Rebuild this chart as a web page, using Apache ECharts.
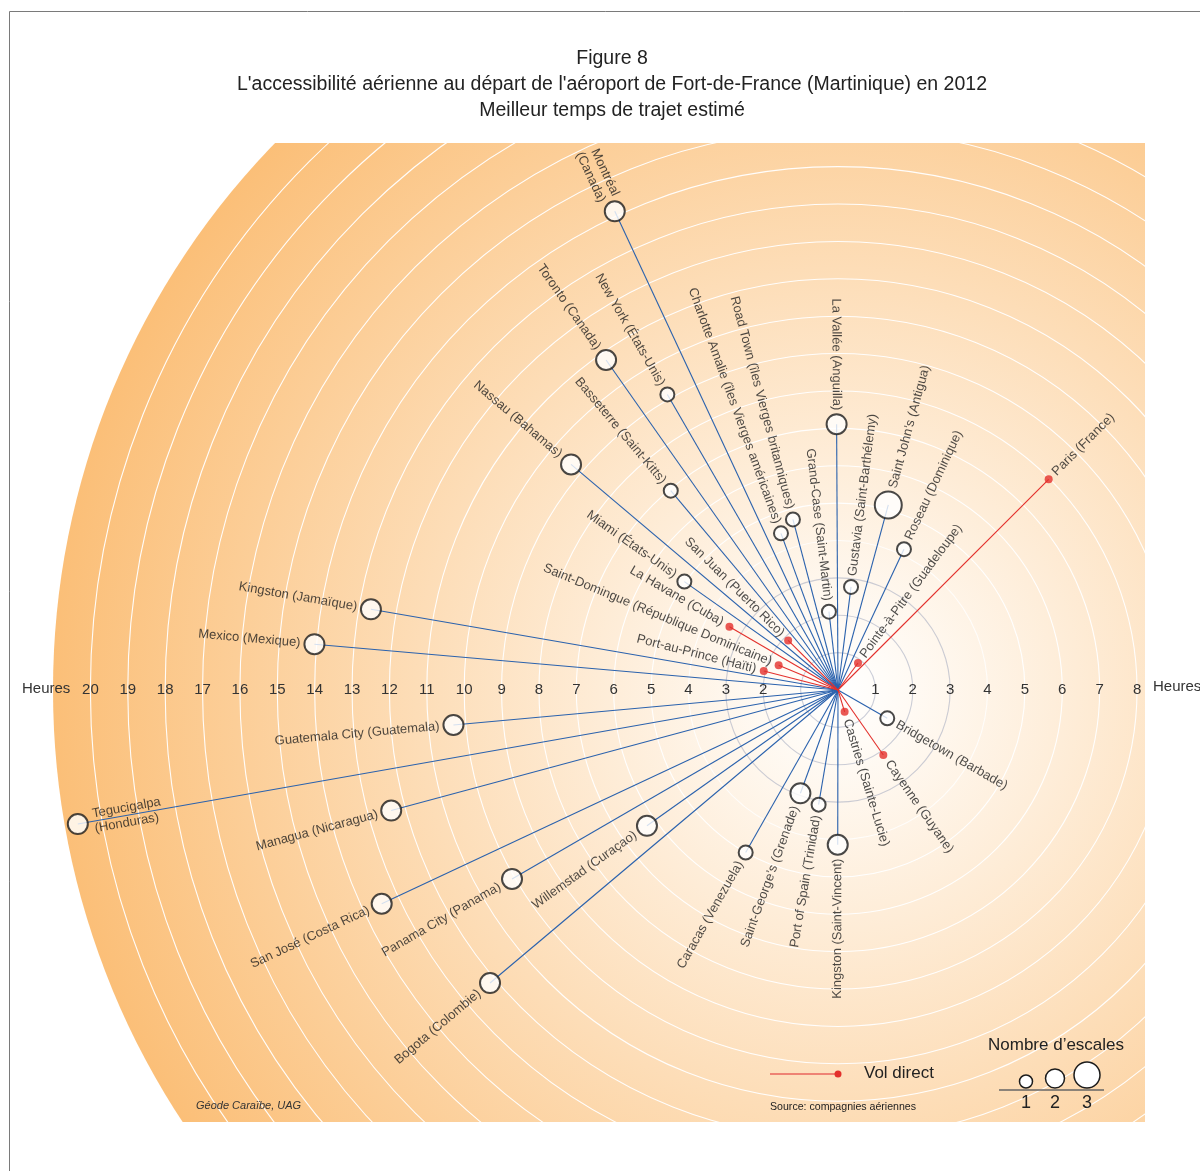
<!DOCTYPE html>
<html>
<head>
<meta charset="utf-8">
<script src="https://cdn.jsdelivr.net/npm/echarts@6/dist/echarts.min.js"></script>
<style>html,body{margin:0;padding:0;background:#fff}#c{width:1200px;height:1171px}</style>
</head>
<body>
<div id="c"></div>
<script>
// ---------- data ----------
const destinations = [
  'Montréal\n(Canada)', 'Toronto (Canada)', 'New York (États-Unis)', 'Nassau (Bahamas)',
  'Basseterre (Saint-Kitts)', 'Charlotte Amalie (îles Vierges américaines)',
  'Road Town (îles Vierges britanniques)', 'La Vallée (Anguilla)', 'Grand-Case (Saint-Martin)',
  'Gustavia (Saint-Barthélemy)', 'Saint John’s (Antigua)', 'Roseau (Dominique)',
  'Pointe-à-Pitre (Guadeloupe)', 'Paris (France)', 'San Juan (Puerto Rico)', 'Miami (États-Unis)',
  'La Havane (Cuba)', 'Saint-Domingue (République Dominicaine)', 'Port-au-Prince (Haïti)',
  'Kingston (Jamaïque)', 'Mexico (Mexique)', 'Guatemala City (Guatemala)', 'Tegucigalpa\n(Honduras)',
  'Managua (Nicaragua)', 'San José (Costa Rica)', 'Panama City (Panama)', 'Willemstad (Curaçao)',
  'Bogota (Colombie)', 'Caracas (Venezuela)', 'Saint-George’s (Grenade)', 'Port of Spain (Trinidad)',
  'Kingston (Saint-Vincent)', 'Castries (Sainte-Lucie)', 'Cayenne (Guyane)', 'Bridgetown (Barbade)'
];
// best estimated travel time (hours)
const hours = [
  14.13, 10.79, 9.13, 9.35, 6.96, 4.46, 4.72, 7.11, 2.11, 2.78, 5.13, 4.16,
  0.90, 7.97, 1.88, 5.03, 3.36, 1.72, 2.05, 12.68, 14.06, 10.33, 20.65,
  12.38, 13.48, 10.08, 6.27, 12.17, 5.00, 2.94, 3.11, 4.14, 0.61, 2.12, 1.52
];
// direction (degrees, counter-clockwise from east)
const bearings = [
  115.0, 125.1, 120.0, 139.8, 130.0, 110.0, 104.8, 90.3, 96.6, 82.8, 74.8, 64.9,
  53.5, 45.0, 135.2, 144.8, 149.8, 157.4, 165.7, 170.2, 175.0, 185.2, 190.0,
  195.1, 205.1, 210.1, 215.4, 220.1, 240.4, 250.0, 260.4, 269.9, 286.9, 304.9, 330.1
];
// number of stops (0 = direct flight)
const stops = [
  2, 2, 1, 2, 1, 1, 1, 2, 1, 1, 3, 1,
  0, 0, 0, 1, 0, 0, 0, 2, 2, 2, 2,
  2, 2, 2, 2, 2, 1, 2, 1, 2, 0, 0, 1
];
const rightTickLabels = [1, 2, 3, 4, 5, 6, 7, 8];
const leftTickLabels = [2, 3, 4, 5, 6, 7, 8, 9, 10, 11, 12, 13, 14, 15, 16, 17, 18, 19, 20];
const legendStops = [1, 2, 3];

// ---------- styles ----------
const FONT = "'Liberation Sans', Arial, sans-serif";
const BLUE = '#2b62ad';
const RED = '#e3302c';
const CX = 838, CY = 690, R = 785, RMAX = 21;
const stopSize = {1: 14, 2: 20, 3: 27};
const inwardLabels = ['Tegucigalpa\n(Honduras)'];

function symSize(s) { return s === 0 ? 8 : stopSize[s]; }

function labelFor(i) {
  const a = bearings[i];
  const d = symSize(stops[i]) / 2 + 4;
  const right = a < 90 || a > 270;
  const rot = right ? (a > 270 ? a - 360 : a) : a - 180;
  const inward = inwardLabels.indexOf(destinations[i]) >= 0;
  let align, off;
  if (inward) { align = right ? 'right' : 'left'; off = right ? -(d + 2) : (d + 2); }
  else { align = right ? 'left' : 'right'; off = right ? d : -d; }
  return {
    show: true, position: 'inside', formatter: destinations[i], rotate: rot,
    align: align, verticalAlign: 'middle', offset: [off, 0],
    color: '#1e1e1e', fontSize: 13, fontFamily: FONT, lineHeight: 15,
    textBorderWidth: 0
  };
}

const ringColors = [];
for (let k = 0; k <= RMAX; k++) {
  if (k === 0 || k === RMAX) ringColors.push('rgba(0,0,0,0)');
  else if (k <= 3) ringColors.push('rgba(160,168,190,0.55)');
  else if (k === 4) ringColors.push('rgba(255,255,255,0.8)');
  else ringColors.push('rgba(255,255,255,0.95)');
}

const series = [];
destinations.forEach((n, i) => {
  const c = stops[i] === 0 ? RED : BLUE;
  series.push({
    type: 'line', coordinateSystem: 'polar', polarIndex: 0,
    data: [[0, bearings[i]], [hours[i], bearings[i]]],
    symbol: 'none', silent: true, z: stops[i] === 0 ? 3 : 2,
    color: c, itemStyle: {color: c},
    lineStyle: {color: c, width: 1.1},
    animation: false
  });
});
series.push({
  type: 'scatter', coordinateSystem: 'polar', polarIndex: 0, z: 5, animation: false, silent: true,
  data: destinations.map((n, i) => ({
    name: n,
    value: [hours[i], bearings[i]],
    symbolSize: symSize(stops[i]),
    itemStyle: stops[i] === 0
      ? {color: RED, borderWidth: 0}
      : {color: '#ffffff', borderColor: '#1c1c1c', borderWidth: 2},
    label: labelFor(i)
  }))
});

const axisLabelBase = {margin: 0, verticalAlign: 'middle', align: 'center', fontSize: 15, color: '#333', fontFamily: FONT};

const option = {
  animation: false,
  title: {
    z: 40,
    text: "Figure 8\nL'accessibilité aérienne au départ de l'aéroport de Fort-de-France (Martinique) en 2012\nMeilleur temps de trajet estimé",
    left: 607, top: 41, textAlign: 'center',
    textStyle: {fontSize: 19.5, fontWeight: 'normal', color: '#222', lineHeight: 26, fontFamily: FONT}
  },
  polar: [
    {center: [CX, CY], radius: R},
    {center: [CX, CY], radius: R}
  ],
  angleAxis: [
    {polarIndex: 0, type: 'value', min: 0, max: 360, startAngle: 0, clockwise: false, show: false},
    {polarIndex: 1, type: 'value', min: 0, max: 360, startAngle: 180, clockwise: false, show: false}
  ],
  radiusAxis: [
    {polarIndex: 0, type: 'value', min: 0, max: RMAX, interval: 1, z: 1,
     axisLine: {show: false}, axisTick: {show: false},
     axisLabel: Object.assign({}, axisLabelBase, {formatter: v => rightTickLabels.indexOf(v) >= 0 ? String(v) : ''}),
     splitLine: {show: true, lineStyle: {color: ringColors, width: 1.1}}},
    {polarIndex: 1, type: 'value', min: 0, max: RMAX, interval: 1, z: 1,
     axisLine: {show: false}, axisTick: {show: false},
     axisLabel: Object.assign({}, axisLabelBase, {formatter: v => leftTickLabels.indexOf(v) >= 0 ? String(v) : ''}),
     splitLine: {show: false}}
  ],
  graphic: [
    {type: 'circle', z: -100, silent: true, shape: {cx: CX, cy: CY, r: R},
     style: {fill: {type: 'radial', x: 0.5, y: 0.5, r: 0.5, colorStops: [
       {offset: 0, color: '#ffffff'}, {offset: 0.06, color: '#fffcf8'}, {offset: 1, color: '#fbbf78'}]}}},
    {type: 'rect', z: 20, silent: true, shape: {x: 0, y: 0, width: 1200, height: 143}, style: {fill: '#fff'}},
    {type: 'rect', z: 20, silent: true, shape: {x: 0, y: 1122, width: 1200, height: 60}, style: {fill: '#fff'}},
    {type: 'rect', z: 20, silent: true, shape: {x: 1145, y: 0, width: 60, height: 1171}, style: {fill: '#fff'}},
    {type: 'rect', z: 21, silent: true, shape: {x: 9.5, y: 11.5, width: 1200, height: 1170}, style: {fill: 'none', stroke: '#7a7a7a', lineWidth: 1}},
    {type: 'text', z: 22, left: 22, top: 681, style: {text: 'Heures', fill: '#333', font: '15px ' + FONT}},
    {type: 'text', z: 22, left: 1153, top: 679, style: {text: 'Heures', fill: '#333', font: '15px ' + FONT}},
    // legend: direct flight
    {type: 'line', z: 22, shape: {x1: 770, y1: 1074, x2: 836, y2: 1074}, style: {stroke: '#e8645c', lineWidth: 1.5}},
    {type: 'circle', z: 23, shape: {cx: 838, cy: 1074, r: 3.5}, style: {fill: RED}},
    {type: 'text', z: 22, left: 864, top: 1065, style: {text: 'Vol direct', fill: '#222', font: '17px ' + FONT}},
    // legend: number of stops
    {type: 'text', z: 22, left: 988, top: 1037, style: {text: 'Nombre d’escales', fill: '#222', font: '17px ' + FONT}},
    {type: 'line', z: 22, shape: {x1: 999, y1: 1090, x2: 1104, y2: 1090}, style: {stroke: '#666', lineWidth: 1.5}},
    ...legendStops.map((s, k) => ({type: 'circle', z: 23,
      shape: {cx: [1026, 1055, 1087][k], cy: 1089 - stopSize[s] / 2 - 0.5, r: stopSize[s] / 2 - 0.5},
      style: {fill: '#fff', stroke: '#1c1c1c', lineWidth: 1.5}})),
    ...legendStops.map((s, k) => ({type: 'text', z: 22, x: [1026, 1055, 1087][k], y: 1103,
      style: {text: String(s), fill: '#222', font: '18px ' + FONT, textAlign: 'center', textVerticalAlign: 'middle'}})),
    {type: 'text', z: 22, left: 770, top: 1102, style: {text: 'Source: compagnies aériennes', fill: '#222', font: '10.6px ' + FONT}},
    {type: 'text', z: 22, left: 196, top: 1100, style: {text: 'Géode Caraïbe, UAG', fill: '#333', font: 'italic 11px ' + FONT}}
  ],
  series: series
};

const chart = echarts.init(document.getElementById('c'), null, {renderer: 'canvas'});
chart.setOption(option);
</script>
</body>
</html>
